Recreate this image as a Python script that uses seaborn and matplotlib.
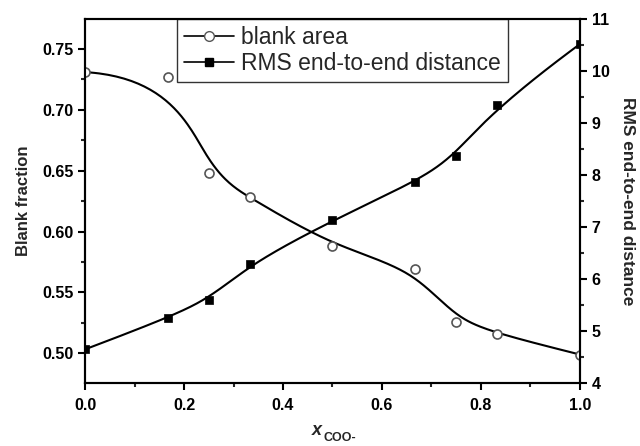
import numpy as np
import pandas as pd
import matplotlib
matplotlib.use("Agg")
import matplotlib.pyplot as plt
import seaborn as sns
from matplotlib.lines import Line2D
from matplotlib.ticker import MultipleLocator

x_coo = [0.0, 1/6, 0.25, 1/3, 0.5, 2/3, 0.75, 5/6, 1.0]
blank_fraction = [0.731, 0.727, 0.648, 0.628, 0.588, 0.569, 0.526, 0.516, 0.499]
rms_distance = [4.65, 5.25, 5.60, 6.29, 7.13, 7.87, 8.37, 9.35, 10.52]

sns.set_theme(style="ticks")
plt.rcParams['font.family'] = ['Liberation Sans', 'DejaVu Sans']
plt.rcParams['font.weight'] = 'bold'


def bspline(xs, ys, n=300, k=3):
    P = np.column_stack([xs, ys])
    m = len(P)
    knots = np.concatenate([np.zeros(k), np.linspace(0, 1, m - k + 1), np.ones(k)])
    ts = np.linspace(0, 1, n)
    out = []
    for t in ts:
        if t >= 1:
            out.append(P[-1]); continue
        i = np.searchsorted(knots, t, side='right') - 1
        d = [P[j + i - k].copy() for j in range(k + 1)]
        for r in range(1, k + 1):
            for j in range(k, r - 1, -1):
                a = (t - knots[j + i - k]) / (knots[j + 1 + i - r] - knots[j + i - k])
                d[j] = (1 - a) * d[j - 1] + a * d[j]
        out.append(d[k])
    out = np.array(out)
    return out[:, 0], out[:, 1]


fig = plt.figure(figsize=(6.4, 4.46), dpi=100)
ax = fig.add_axes([0.133, 0.141, 0.773, 0.816])
ax2 = ax.twinx()

bx, by = bspline(x_coo, blank_fraction)
rx, ry = bspline(x_coo, rms_distance)
sns.lineplot(x=bx, y=by, ax=ax, color='black', lw=1.5, sort=False)
sns.scatterplot(x=x_coo, y=blank_fraction, ax=ax, marker='o', s=42,
                facecolor='white', edgecolor='#555555', linewidth=1.2, zorder=3)
sns.lineplot(x=rx, y=ry, ax=ax2, color='black', lw=1.5, sort=False)
sns.scatterplot(x=x_coo, y=rms_distance, ax=ax2, marker='s', s=38,
                color='black', edgecolor='black', zorder=3)

ax.set_xlim(0, 1.0)
ax.set_ylim(0.4755, 0.7745)
ax2.set_ylim(4, 11)
ax.xaxis.set_major_locator(MultipleLocator(0.2))
ax.xaxis.set_minor_locator(MultipleLocator(0.1))
ax.yaxis.set_major_locator(MultipleLocator(0.05))
ax.yaxis.set_minor_locator(MultipleLocator(0.025))
ax2.yaxis.set_major_locator(MultipleLocator(1))
ax2.yaxis.set_minor_locator(MultipleLocator(0.5))
ax.xaxis.set_major_formatter(plt.FuncFormatter(lambda v, p: f"{v:.1f}"))
ax.yaxis.set_major_formatter(plt.FuncFormatter(lambda v, p: f"{v:.2f}"))

for a in (ax, ax2):
    for s in a.spines.values():
        s.set_linewidth(1.5)
        s.set_color('black')
    a.tick_params(which='major', length=5, width=1.5, labelsize=11.5, colors='black')
    a.tick_params(which='minor', length=3, width=1.5)
ax.tick_params(axis='x', pad=6)

ax.set_xlabel("")
fig.text(0.503, 0.025, "x", style='italic', fontsize=13, ha='right')
fig.text(0.505, 0.012, "COO-", fontsize=9, ha='left')
ax.set_ylabel("Blank fraction", fontsize=12, fontweight='bold', labelpad=8)
ax2.set_ylabel("RMS end-to-end distance", fontsize=12.5, fontweight='bold',
               rotation=270, labelpad=18)

handles = [
    Line2D([], [], color='black', lw=1.2, marker='o', markersize=7,
           markerfacecolor='white', markeredgecolor='#555555'),
    Line2D([], [], color='black', lw=1.2, marker='s', markersize=6,
           markerfacecolor='black', markeredgecolor='black'),
]
leg = ax.legend(handles, ["blank area", "RMS end-to-end distance"],
                loc='upper center', bbox_to_anchor=(0.52, 1.0), fontsize=16.5,
                frameon=True, fancybox=False, edgecolor='black',
                borderpad=0.3, labelspacing=0.15, handlelength=2.2,
                handletextpad=0.3, borderaxespad=0)
leg.get_frame().set_linewidth(1.0)
for t in leg.get_texts():
    t.set_fontweight('normal')

fig.savefig("out.png", dpi=100)
